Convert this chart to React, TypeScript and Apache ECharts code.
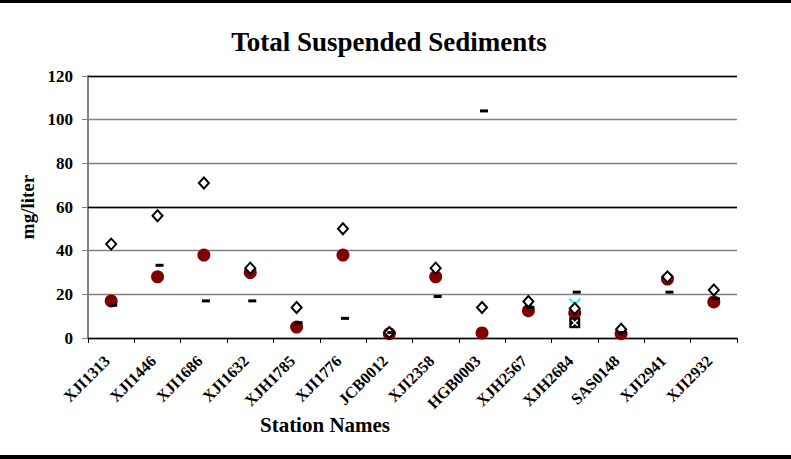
import React, { useEffect, useRef } from "react";
import * as echarts from "echarts";

const categories = [
  "XJI1313", "XJI1446", "XJI1686", "XJI1632", "XJH1785", "XJI1776", "JCB0012",
  "XJI2358", "HGB0003", "XJH2567", "XJH2684", "SAS0148", "XJI2941", "XJI2932",
];
const circleValues = [17, 28, 38, 30, 5, 38, 2, 28, 2.3, 12.5, 11.5, 2, 27, 16.5];
const diamondValues = [43, 56, 71, 32, 14, 50, 2.5, 32, 14, 16.7, 13.5, 4, 28, 22];
const dashValues = [15, 33.3, 17, 17, 7, 9, 2.5, 19, 104, 14, 21, 2.5, 21, 18];
const crossValues = [null, null, null, null, null, null, null, null, null, null, 15.5, null, null, null];
const boxValues = [null, null, null, null, null, null, null, null, null, null, 7, null, null, null];
const yTicks = { min: 0, max: 120, interval: 20 };
const blackGridLines = [60, 120];

const SERIF = "'Liberation Serif', 'Times New Roman', serif";
const X_PATH = "path://M0,0L10,10M10,0L0,10";

export default function App() {
  const ref = useRef<HTMLDivElement>(null);
  useEffect(() => {
    if (!ref.current) return;
    const chart = echarts.init(ref.current, null, { renderer: "svg" });
    chart.setOption({
      animation: false,
      backgroundColor: "#fff",
      grid: { left: 88, right: 54, top: 76, bottom: 121, containLabel: false },
      xAxis: {
        type: "category",
        data: categories,
        boundaryGap: true,
        axisLine: { show: true, lineStyle: { color: "#000", width: 1.3 } },
        axisTick: { show: true, alignWithLabel: false, length: 5, lineStyle: { color: "#000" } },
        axisLabel: {
          rotate: 45,
          interval: 0,
          margin: 16,
          padding: [0, 6, 0, 0],
          fontFamily: SERIF,
          fontWeight: "bold",
          fontSize: 16,
          color: "#000",
        },
        splitLine: { show: false },
      },
      yAxis: {
        type: "value",
        min: yTicks.min,
        max: yTicks.max,
        interval: yTicks.interval,
        axisLine: { show: true, lineStyle: { color: "#808080", width: 2 } },
        axisTick: { show: true, length: 6, lineStyle: { color: "#808080" } },
        axisLabel: {
          margin: 15,
          fontFamily: SERIF,
          fontWeight: "bold",
          fontSize: 17,
          color: "#000",
        },
        splitLine: { show: true, lineStyle: { color: "#808080", width: 1.3 } },
      },
      graphic: [
        { type: "rect", left: 0, top: 0, shape: { width: 791, height: 3 }, style: { fill: "#000" } },
        { type: "rect", left: 0, top: 455, shape: { width: 791, height: 4 }, style: { fill: "#000" } },
        {
          type: "text",
          x: 389,
          y: 42,
          style: {
            text: "Total Suspended Sediments",
            fontFamily: SERIF,
            fontWeight: "bold",
            fontSize: 27,
            fill: "#000",
            align: "center",
            verticalAlign: "middle",
          },
        },
        {
          type: "text",
          x: 325,
          y: 425,
          style: {
            text: "Station Names",
            fontFamily: SERIF,
            fontWeight: "bold",
            fontSize: 21,
            fill: "#000",
            align: "center",
            verticalAlign: "middle",
          },
        },
        {
          type: "text",
          x: 27,
          y: 207,
          rotation: Math.PI / 2,
          style: {
            text: "mg/liter",
            fontFamily: SERIF,
            fontWeight: "bold",
            fontSize: 19,
            fill: "#000",
            align: "center",
            verticalAlign: "middle",
          },
        },
      ],
      series: [
        {
          type: "scatter",
          name: "cross",
          z: 1,
          data: crossValues,
          symbol: X_PATH,
          symbolSize: 11,
          itemStyle: { color: "transparent", borderColor: "#00FFFF", borderWidth: 2, opacity: 1 },
          markLine: {
            silent: true,
            symbol: "none",
            label: { show: false },
            lineStyle: { color: "#000", width: 1.3, type: "solid" },
            data: blackGridLines.map((v) => ({ yAxis: v })),
          },
        },
        {
          type: "scatter",
          name: "circle",
          z: 2,
          data: circleValues,
          symbol: "circle",
          symbolSize: 13,
          itemStyle: { color: "#800000", opacity: 1 },
        },
        {
          type: "scatter",
          name: "diamond",
          z: 3,
          data: diamondValues,
          symbol: "diamond",
          symbolSize: [10, 11],
          itemStyle: { color: "#fff", borderColor: "#000", borderWidth: 2, opacity: 1 },
        },
        {
          type: "scatter",
          name: "dash",
          z: 4,
          data: dashValues,
          symbol: "rect",
          symbolSize: [8, 3],
          symbolOffset: [2, 0],
          itemStyle: { color: "#000", opacity: 1 },
        },
        {
          type: "scatter",
          name: "box",
          z: 5,
          data: boxValues,
          symbol: "rect",
          symbolSize: 11,
          itemStyle: { color: "#000", opacity: 1 },
        },
        {
          type: "scatter",
          name: "boxX",
          z: 6,
          data: boxValues,
          symbol: X_PATH,
          symbolSize: 6,
          itemStyle: { color: "transparent", borderColor: "#fff", borderWidth: 1.5, opacity: 1 },
        },
      ],
    });
    return () => chart.dispose();
  }, []);
  return (
    <div
      ref={ref}
      style={{ position: "fixed", left: 0, top: 0, width: 791, height: 459 }}
    />
  );
}
